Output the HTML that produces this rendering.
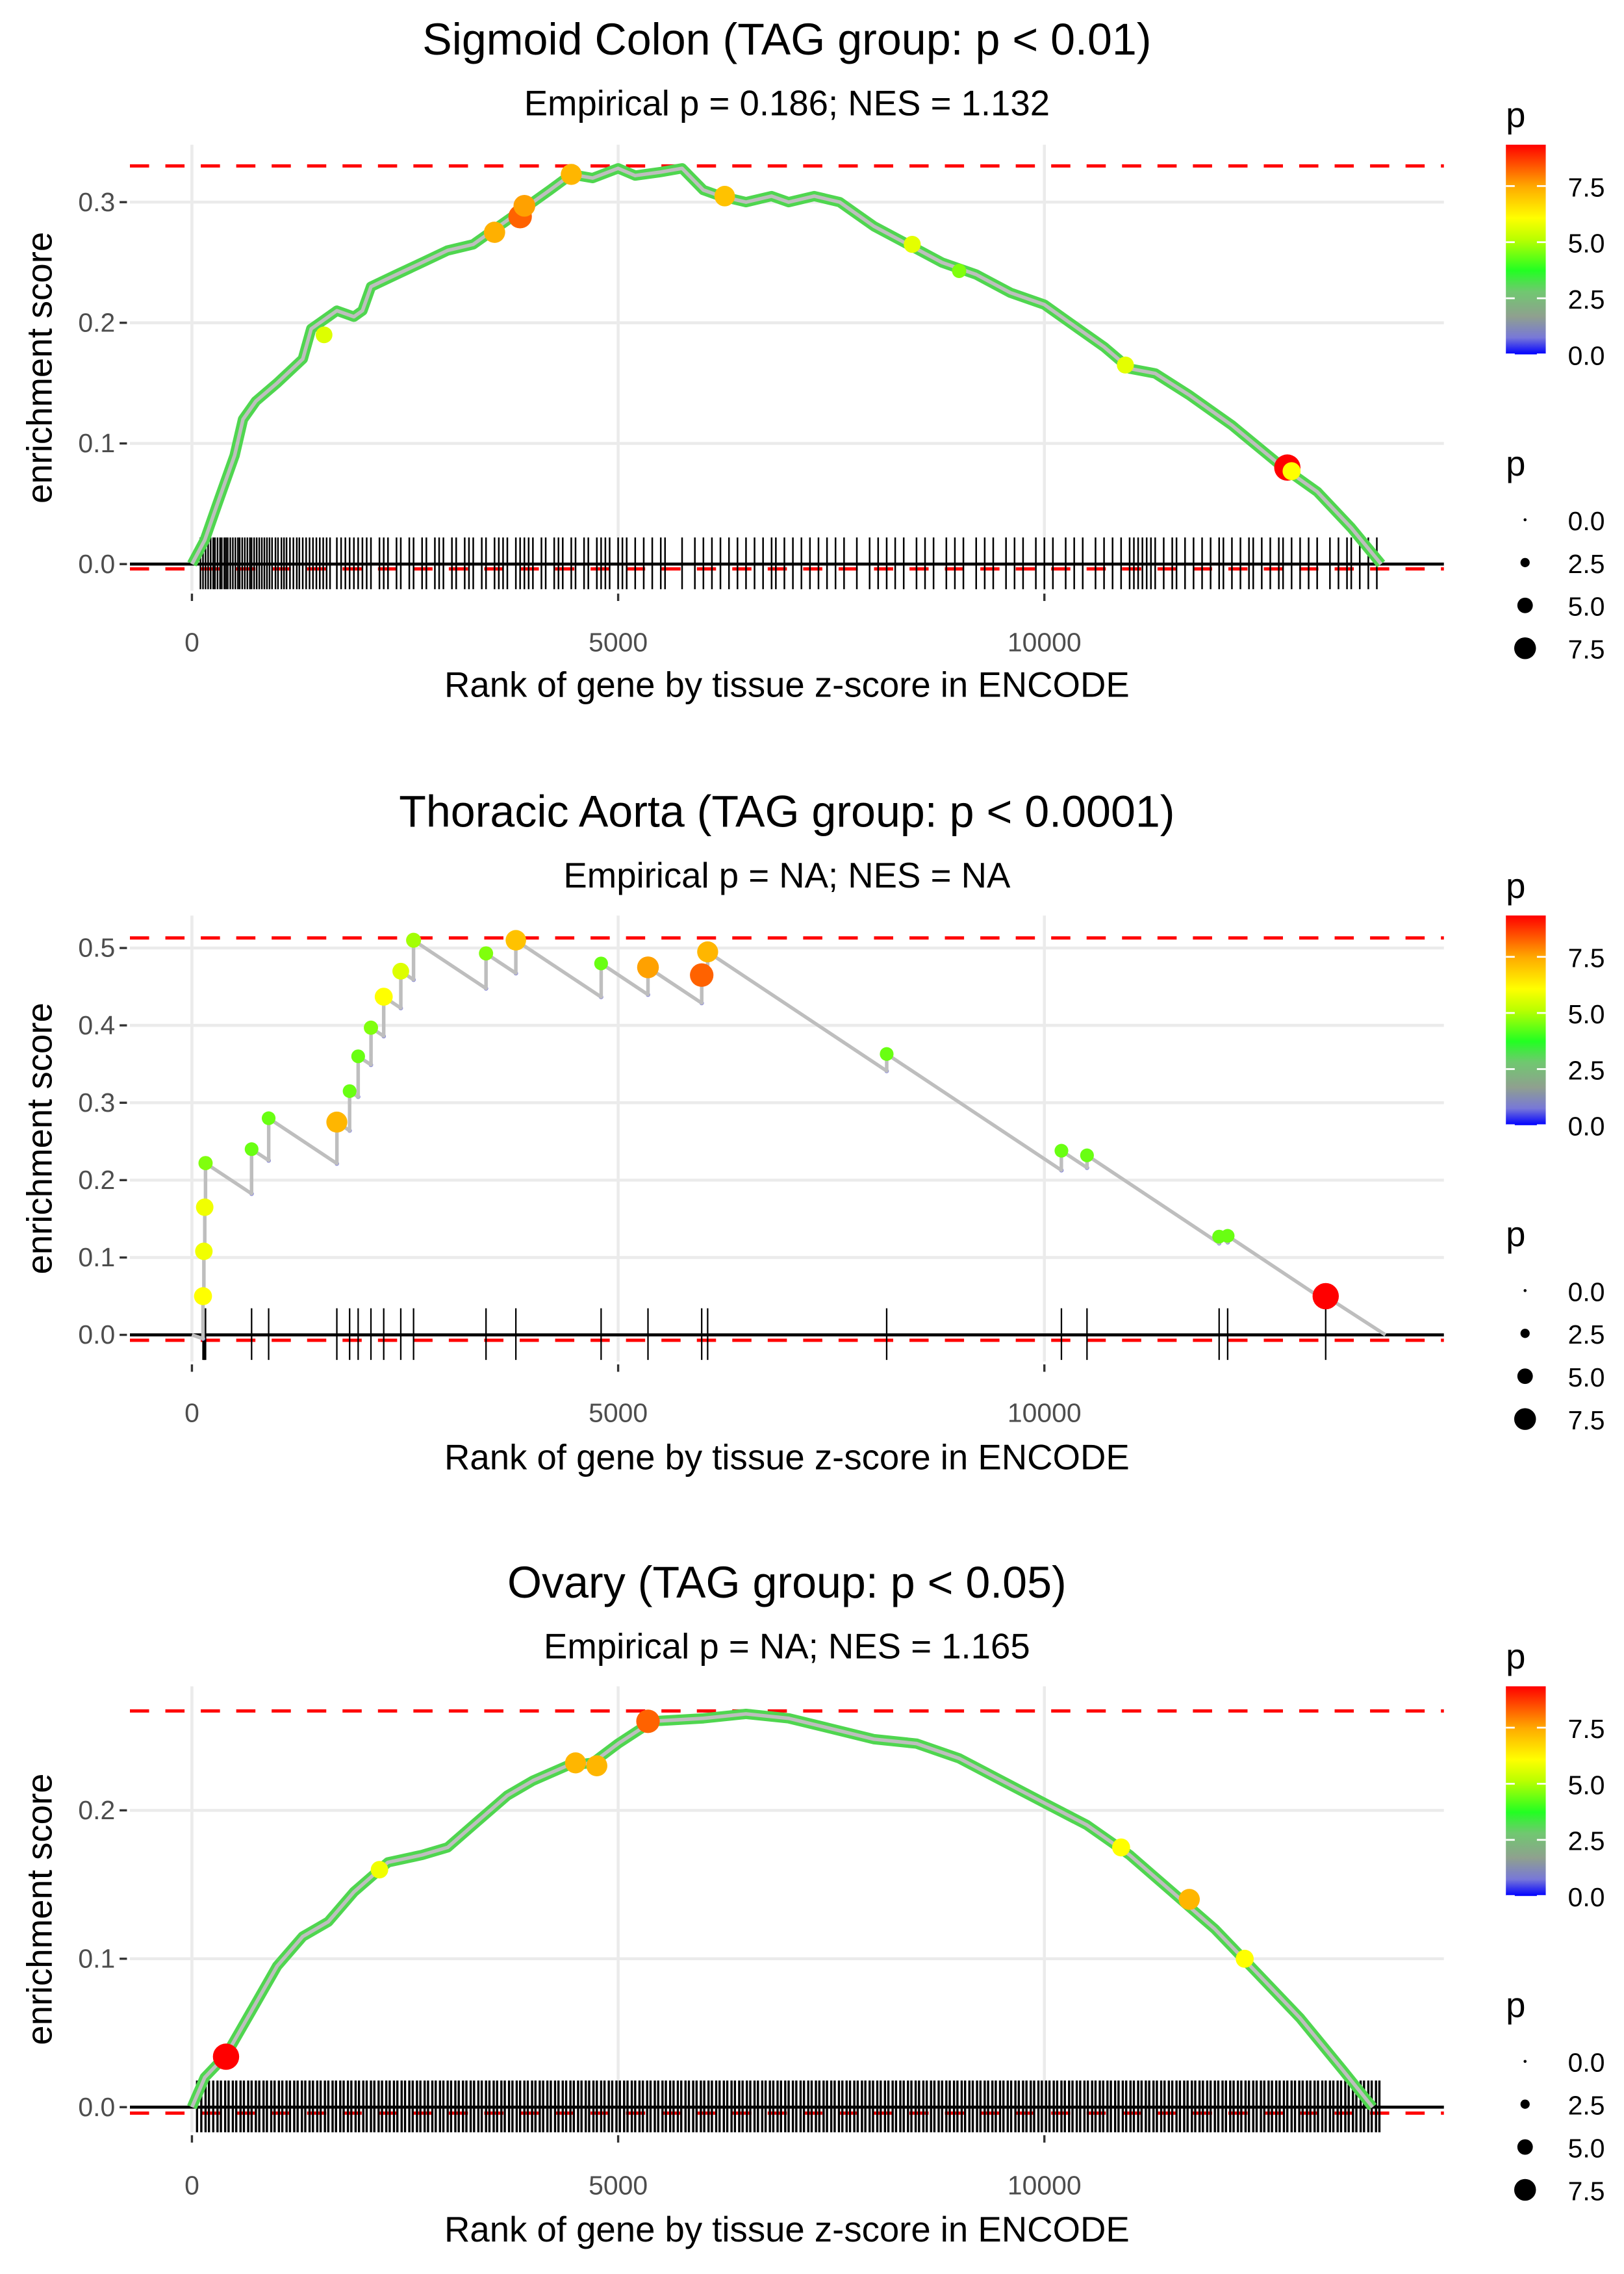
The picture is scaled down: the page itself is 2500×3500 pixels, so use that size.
<!DOCTYPE html>
<html><head><meta charset="utf-8"><style>
html,body{margin:0;padding:0;background:#fff}
svg{display:block}
text{font-family:"Liberation Sans",Arial,sans-serif}
</style></head><body>
<svg id="chart" width="2500" height="3500" viewBox="0 0 1100 1540" xmlns="http://www.w3.org/2000/svg">
<defs>
<linearGradient id="pgrad" x1="0" y1="1" x2="0" y2="0">
<stop offset="0" stop-color="#0000ff"/><stop offset="0.08" stop-color="#7878d8"/><stop offset="0.18" stop-color="#8fa08f"/><stop offset="0.3" stop-color="#70c870"/><stop offset="0.4" stop-color="#22ff22"/><stop offset="0.55" stop-color="#bbff00"/><stop offset="0.65" stop-color="#ffff00"/><stop offset="0.8" stop-color="#ffaa00"/><stop offset="1" stop-color="#ff0000"/>
</linearGradient>
</defs>
<g id="root"></g>
</svg>
<script>
// ---------- Panel 1: Sigmoid Colon ----------
const p1Ranks=[0,150,300,500,600,750,1000,1300,1400,1500,1700,1900,2000,2100,2400,2700,3000,3300,3500,3800,4000,4200,4450,4700,5000,5200,5500,5750,6000,6200,6500,6800,7000,7300,7600,7800,8000,8400,8800,9200,9600,10000,10300,10700,11000,11300,11700,12200,12800,13200,13600,13950];
const p1ES=[0,0.02,0.05,0.09,0.12,0.135,0.15,0.17,0.195,0.2,0.21,0.205,0.21,0.23,0.24,0.25,0.26,0.265,0.275,0.29,0.3,0.31,0.323,0.32,0.328,0.322,0.325,0.328,0.31,0.305,0.3,0.305,0.3,0.305,0.3,0.29,0.28,0.265,0.25,0.24,0.225,0.215,0.2,0.18,0.162,0.158,0.14,0.115,0.08,0.06,0.03,0];
const p1HitRanks=[1550,3550,3850,3900,4450,6250,8450,9000,10950,12850,12900];
const p1HitES=[0.19,0.275,0.288,0.297,0.323,0.305,0.265,0.243,0.165,0.08,0.077];
const p1HitP=[5.5,7.3,8.2,7.5,7.2,7.0,5.6,4.5,5.6,9.3,6.0];
const p1Rug=[100,130,160,190,220,250,270,300,330,350,380,400,420,450,480,510,540,560,590,620,650,680,700,730,760,790,820,850,880,910,940,980,1010,1050,1080,1110,1150,1190,1230,1260,1300,1340,1380,1420,1460,1500,1540,1580,1620,1700,1750,1800,1850,1900,1950,2000,2050,2100,2200,2250,2300,2400,2450,2550,2600,2700,2750,2850,2900,2950,3050,3100,3200,3250,3300,3400,3450,3550,3600,3650,3700,3800,3850,3900,3950,4000,4100,4150,4250,4300,4350,4450,4500,4600,4650,4750,4800,4850,4900,5000,5050,5100,5200,5300,5400,5500,5550,5750,5900,6000,6100,6200,6300,6400,6500,6600,6700,6800,6850,6950,7050,7150,7250,7350,7450,7550,7650,7800,7950,8050,8150,8250,8350,8500,8600,8700,8850,8950,9050,9200,9300,9400,9550,9650,9750,9900,10000,10100,10250,10350,10450,10600,10700,10800,10900,11000,11050,11100,11150,11200,11250,11300,11400,11500,11550,11650,11750,11850,11950,12050,12100,12200,12300,12400,12450,12550,12650,12750,12800,12900,13000,13100,13200,13350,13450,13550,13600,13700,13800,13900];

// ---------- Panel 2: Thoracic Aorta ----------
const p2HitRanks=[130,140,150,160,700,900,1700,1850,1950,2100,2250,2450,2600,3450,3800,4800,5350,5980,6050,8150,10200,10500,12050,12150,13300];
const p2HitES=[0.05,0.108,0.165,0.222,0.24,0.28,0.275,0.315,0.36,0.397,0.437,0.47,0.51,0.493,0.51,0.48,0.475,0.465,0.495,0.363,0.238,0.232,0.127,0.128,0.05];
const p2HitP=[6.0,5.8,5.8,4.5,4.3,4.3,7.2,4.3,4.3,4.5,6.0,5.5,4.8,4.5,7.0,4.3,7.5,8.2,7.2,4.3,4.3,4.3,4.3,4.3,9.3];
const p2EndRank=14000;
const p2Decline=[0.0000733];

// ---------- Panel 3: Ovary ----------
const p3Ranks=[0,150,400,700,1000,1300,1600,1900,2100,2300,2700,3000,3300,3700,4000,4400,4700,5000,5400,6000,6500,7000,7500,8000,8500,9000,9500,10000,10500,11000,11500,12000,12500,13000,13500,13850];
const p3ES=[0,0.02,0.035,0.065,0.095,0.115,0.125,0.145,0.155,0.165,0.17,0.175,0.19,0.21,0.22,0.23,0.232,0.245,0.26,0.262,0.265,0.262,0.255,0.248,0.245,0.235,0.22,0.205,0.19,0.17,0.145,0.12,0.09,0.06,0.025,0];
const p3HitRanks=[400,2200,4500,4750,5350,10900,11700,12350];
const p3HitES=[0.034,0.16,0.232,0.23,0.26,0.175,0.14,0.1];
const p3HitP=[9.3,5.8,7.2,7.2,8.2,6.0,7.2,6.0];
const p3Rug=[60,110,160,200,250,300,340,390,430,480,520,570,610,660,700,750,790,840,880,930,970,1020,1060,1110,1150,1200,1240,1290,1330,1380,1420,1470,1510,1560,1600,1650,1690,1740,1780,1830,1870,1920,1960,2010,2050,2100,2140,2190,2230,2280,2320,2370,2410,2460,2500,2550,2590,2640,2680,2730,2770,2820,2860,2910,2950,3000,3040,3090,3130,3180,3220,3270,3310,3360,3400,3450,3490,3540,3580,3630,3670,3720,3760,3810,3850,3900,3940,3990,4030,4080,4120,4170,4210,4260,4300,4350,4390,4440,4480,4530,4570,4620,4660,4710,4750,4800,4840,4890,4930,4980,5020,5070,5110,5160,5200,5250,5290,5340,5380,5430,5470,5520,5560,5610,5650,5700,5740,5790,5830,5880,5920,5970,6010,6060,6100,6150,6190,6240,6280,6330,6370,6420,6460,6510,6550,6600,6640,6690,6730,6780,6820,6870,6910,6960,7000,7050,7090,7140,7180,7230,7270,7320,7360,7410,7450,7500,7540,7590,7630,7680,7720,7770,7810,7860,7900,7950,7990,8040,8080,8130,8170,8220,8260,8310,8350,8400,8440,8490,8530,8580,8620,8670,8710,8760,8800,8850,8890,8940,8980,9030,9070,9120,9160,9210,9250,9300,9340,9390,9430,9480,9520,9570,9610,9660,9700,9750,9790,9840,9880,9930,9970,10020,10060,10110,10150,10200,10240,10290,10330,10380,10420,10470,10510,10560,10600,10650,10690,10740,10780,10830,10870,10920,10960,11010,11050,11100,11140,11190,11230,11280,11320,11370,11410,11460,11500,11550,11590,11640,11680,11730,11770,11820,11860,11910,11950,12000,12040,12090,12130,12180,12220,12270,12310,12360,12400,12450,12490,12540,12580,12630,12670,12720,12760,12810,12850,12900,12940,12990,13030,13080,13120,13170,13210,13260,13300,13350,13390,13440,13480,13530,13570,13620,13660,13710,13750,13800,13840,13890,13930];

const xTicks=[0,5000,10000];
const xTickLabels=["0","5000","10000"];
const legendSizes=[0,2.5,5,7.5];
const legendLabels=["0.0","2.5","5.0","7.5"];

const NS="http://www.w3.org/2000/svg";
const root=document.getElementById('root');
function mk(tag,attrs,parent,txt){const e=document.createElementNS(NS,tag);for(const k in attrs)e.setAttribute(k,attrs[k]);if(txt!==undefined)e.textContent=txt;(parent||root).appendChild(e);return e;}
function pColor(p){
  const stops=[[0,[0,0,255]],[0.7,[120,120,216]],[1.7,[143,160,143]],[2.8,[112,200,112]],[3.7,[34,255,34]],[5,[187,255,0]],[6,[255,255,0]],[7.4,[255,170,0]],[9.3,[255,0,0]]];
  for(let i=1;i<stops.length;i++){if(p<=stops[i][0]){const a=stops[i-1],b=stops[i];const t=(p-a[0])/(b[0]-a[0]);const c=a[1].map((v,j)=>Math.round(v+(b[1][j]-v)*t));return `rgb(${c})`;}}
  return 'rgb(255,0,0)';
}
function pSize(p){return 1+p*0.85;}

const panels=[
 {title:"Sigmoid Colon (TAG group: p < 0.01)",sub:"Empirical p = 0.186; NES = 1.132",titleY:27,subY:70,y0:382,scale:817,yTicks:[0,0.1,0.2,0.3],top:0.33,bot:-0.004,pTop:98,pBot:400,rugTop:364,rugBot:399,tickY:441,xlabY:472,legY:78,sizeLegY:314,rugW:1.1},
 {title:"Thoracic Aorta (TAG group: p < 0.0001)",sub:"Empirical p = NA; NES = NA",titleY:550,subY:593,y0:904,scale:524,yTicks:[0,0.1,0.2,0.3,0.4,0.5],top:0.513,bot:-0.007,pTop:620,pBot:922,rugTop:886,rugBot:921,tickY:963,xlabY:995,legY:600,sizeLegY:836,rugW:1},
 {title:"Ovary (TAG group: p < 0.05)",sub:"Empirical p = NA; NES = 1.165",titleY:1072,subY:1115,y0:1427,scale:1005,yTicks:[0,0.1,0.2],top:0.267,bot:-0.004,pTop:1142,pBot:1444,rugTop:1409,rugBot:1444,tickY:1486,xlabY:1518,legY:1122,sizeLegY:1358,rugW:1.5}
];
const X=r=>130+r*0.05774;
const PL=88,PR=978;

panels.forEach((P,i)=>{
  const g=mk('g',{});
  
  
  const Y=v=>P.y0-v*P.scale;
  const t=mk('text',{x:533,y:P.titleY+10,'font-size':30,'text-anchor':'middle',fill:'#000'},g,P.title);
  
  
  const s=mk('text',{x:533,y:P.subY+8,'font-size':24,'text-anchor':'middle',fill:'#000'},g,P.sub);
  
  
  xTicks.forEach(v=>{const l=mk('line',{x1:X(v),x2:X(v),y1:P.pTop,y2:P.pBot,stroke:'#ebebeb','stroke-width':2},g);
    
    });
  P.yTicks.forEach(v=>{const l=mk('line',{x1:PL,x2:PR,y1:Y(v),y2:Y(v),stroke:'#ebebeb','stroke-width':2},g);
    
    
    const tk=mk('line',{x1:81,x2:86,y1:Y(v),y2:Y(v),stroke:'#333','stroke-width':1.5},g);
    
    
    const tl=mk('text',{x:78,y:Y(v)+6,'font-size':18,'text-anchor':'end',fill:'#4d4d4d'},g,v.toFixed(1));
    
    });
  xTicks.forEach((v,k)=>{const tk=mk('line',{x1:X(v),x2:X(v),y1:P.pBot+2,y2:P.pBot+7,stroke:'#333','stroke-width':1.5},g);
    
    
    const tl=mk('text',{x:X(v),y:P.tickY,'font-size':18,'text-anchor':'middle',fill:'#4d4d4d'},g,xTickLabels[k]);
    
    });
  const xl=mk('text',{x:533,y:P.xlabY,'font-size':24,'text-anchor':'middle',fill:'#000'},g,"Rank of gene by tissue z-score in ENCODE");
  
  
  const cy=(P.pTop+P.pBot)/2;
  const yl=mk('text',{x:0,y:0,'font-size':24,'text-anchor':'middle',fill:'#000',transform:`translate(35,${cy}) rotate(-90)`},g,"enrichment score");
  
  
  [P.top,P.bot].forEach(v=>{const l=mk('line',{x1:PL,x2:PR,y1:Y(v),y2:Y(v),stroke:'#ff0000','stroke-width':2.2,'stroke-dasharray':'13 11'},g);
    
    });
  const rug=i===0?p1Rug:(i===1?p2HitRanks:p3Rug);
  rug.forEach(r=>{const l=mk('line',{x1:X(r),x2:X(r),y1:P.rugTop,y2:P.rugBot,stroke:'#000','stroke-width':P.rugW},g);
    
    });
  const zl=mk('line',{x1:PL,x2:PR,y1:Y(0),y2:Y(0),stroke:'#000','stroke-width':2},g);
  
  
  let pts=[],hr,he,hp;
  if(i===1){
    pts.push([0,0]);let prevR=0,prevE=0;
    p2HitRanks.forEach((r,k)=>{const pre=prevE-p2Decline[0]*(r-prevR);pts.push([r,Math.max(pre,-0.005)]);pts.push([r,p2HitES[k]]);prevR=r;prevE=p2HitES[k];});
    pts.push([p2EndRank,Math.max(prevE-p2Decline[0]*(p2EndRank-prevR),0)]);
    hr=p2HitRanks;he=p2HitES;hp=p2HitP;
  } else {
    const R=i===0?p1Ranks:p3Ranks,E=i===0?p1ES:p3ES;
    pts=R.map((r,k)=>[r,E[k]]);
    hr=i===0?p1HitRanks:p3HitRanks;he=i===0?p1HitES:p3HitES;hp=i===0?p1HitP:p3HitP;
  }
  const d=pts.map(p=>X(p[0]).toFixed(1)+','+Y(p[1]).toFixed(1)).join(' ');
  if(i!==1){
    const gl=mk('polyline',{points:d,fill:'none',stroke:'#4fd64f','stroke-width':7,'stroke-linejoin':'round'},g);
    
    
  } else {
    p2HitRanks.forEach((r,k)=>{const c=mk('circle',{cx:X(r),cy:Y(pts[1+2*k][1]),r:1.5,fill:'#7777dd'},g);
      
      });
  }
  const ln=mk('polyline',{points:d,fill:'none',stroke:'#bebebe','stroke-width':2.4,'stroke-linejoin':'round'},g);
  
  
  hr.forEach((r,k)=>{const c=mk('circle',{cx:X(r),cy:Y(he[k]),r:pSize(hp[k]),fill:pColor(hp[k])},g);
    
    });
  const lp=mk('text',{x:1020,y:P.legY+8,'font-size':24,fill:'#000'},g,'p');
  
  
  const cb=mk('rect',{x:1020,y:P.legY+20,width:27,height:142,fill:'url(#pgrad)'},g);
  
  
  [0,2.5,5,7.5].forEach((v,k)=>{const yy=P.legY+162-v*15.2;
    mk('line',{x1:1020,x2:1026,y1:yy,y2:yy,stroke:'#fff','stroke-width':1.2},g);
    mk('line',{x1:1041,x2:1047,y1:yy,y2:yy,stroke:'#fff','stroke-width':1.2},g);
    const tl=mk('text',{x:1062,y:yy+7,'font-size':18,fill:'#000'},g,legendLabels[k]);
    
    });
  const sp=mk('text',{x:1020,y:P.sizeLegY+8,'font-size':24,fill:'#000'},g,'p');
  
  
  legendSizes.forEach((v,k)=>{const yy=P.sizeLegY+38+k*29;
    const c=mk('circle',{cx:1033,cy:yy,r:pSize(v),fill:'#000'},g);
    
    
    const tl=mk('text',{x:1062,y:yy+7,'font-size':18,fill:'#000'},g,legendLabels[k]);
    
    });
});
</script>
</body></html>
